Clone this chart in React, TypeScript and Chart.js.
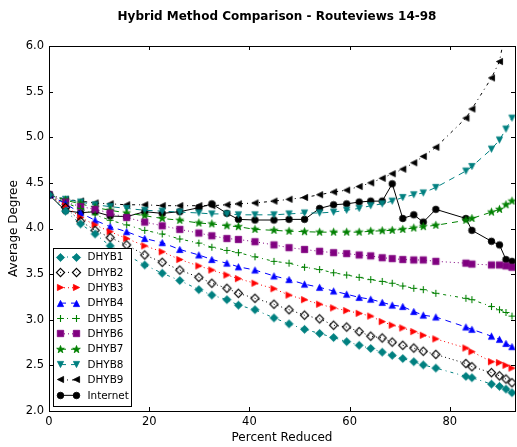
import React, { useEffect, useRef } from "react";
import { Chart, registerables } from "chart.js";

Chart.register(...registerables);

// ---- data ----
const percentReduced = [0, 3.3, 6.3, 9.2, 12.2, 15.5, 19.1, 22.6, 26.1, 29.9, 32.5, 35.5, 37.8, 41.1, 44.9, 47.9, 51.0, 54.0, 56.8, 59.4, 61.9, 64.2, 66.5, 68.5, 70.6, 72.8, 74.7, 77.2, 83.2, 84.4, 88.3, 89.9, 91.2, 92.4];

const dhyb1 = [4.37, 4.19, 4.05, 3.94, 3.81, 3.71, 3.60, 3.51, 3.43, 3.33, 3.27, 3.22, 3.16, 3.11, 3.02, 2.955, 2.895, 2.85, 2.805, 2.76, 2.72, 2.685, 2.645, 2.61, 2.575, 2.54, 2.505, 2.47, 2.38, 2.365, 2.295, 2.27, 2.24, 2.20];
const dhyb2 = [4.37, 4.23, 4.08, 3.98, 3.90, 3.82, 3.71, 3.63, 3.545, 3.465, 3.40, 3.345, 3.29, 3.235, 3.17, 3.11, 3.05, 3.01, 2.94, 2.92, 2.87, 2.82, 2.80, 2.755, 2.72, 2.69, 2.655, 2.62, 2.52, 2.485, 2.42, 2.385, 2.35, 2.31];
const dhyb3 = [4.37, 4.25, 4.12, 4.04, 3.965, 3.89, 3.81, 3.745, 3.66, 3.59, 3.545, 3.49, 3.45, 3.40, 3.34, 3.27, 3.22, 3.17, 3.13, 3.10, 3.07, 3.04, 2.98, 2.94, 2.91, 2.87, 2.83, 2.79, 2.69, 2.65, 2.54, 2.53, 2.50, 2.47];
const dhyb4 = [4.37, 4.27, 4.17, 4.09, 4.02, 3.965, 3.89, 3.845, 3.77, 3.71, 3.66, 3.62, 3.58, 3.545, 3.48, 3.44, 3.39, 3.355, 3.315, 3.28, 3.245, 3.225, 3.19, 3.16, 3.145, 3.09, 3.05, 3.03, 2.92, 2.895, 2.82, 2.785, 2.74, 2.705];
const dhyb5 = [4.37, 4.28, 4.22, 4.15, 4.09, 4.04, 3.98, 3.94, 3.885, 3.84, 3.795, 3.76, 3.735, 3.69, 3.64, 3.62, 3.575, 3.55, 3.515, 3.49, 3.465, 3.44, 3.42, 3.40, 3.37, 3.345, 3.33, 3.29, 3.235, 3.22, 3.145, 3.11, 3.08, 3.04];
const dhyb6 = [4.37, 4.29, 4.24, 4.21, 4.17, 4.12, 4.07, 4.03, 3.99, 3.95, 3.92, 3.89, 3.88, 3.855, 3.82, 3.79, 3.77, 3.75, 3.735, 3.725, 3.71, 3.70, 3.68, 3.67, 3.66, 3.655, 3.655, 3.64, 3.62, 3.61, 3.60, 3.60, 3.59, 3.575];
const dhyb7 = [4.37, 4.31, 4.27, 4.23, 4.20, 4.17, 4.14, 4.11, 4.09, 4.06, 4.05, 4.03, 4.02, 3.99, 3.98, 3.97, 3.965, 3.96, 3.96, 3.96, 3.96, 3.97, 3.975, 3.98, 3.99, 4.005, 4.02, 4.035, 4.09, 4.11, 4.18, 4.21, 4.26, 4.30];
const dhyb8 = [4.37, 4.32, 4.29, 4.26, 4.24, 4.22, 4.20, 4.19, 4.18, 4.17, 4.16, 4.16, 4.15, 4.15, 4.15, 4.16, 4.17, 4.17, 4.18, 4.20, 4.22, 4.25, 4.27, 4.30, 4.34, 4.37, 4.39, 4.45, 4.63, 4.68, 4.87, 4.97, 5.09, 5.21];
const dhyb9 = [4.37, 4.32, 4.30, 4.28, 4.27, 4.26, 4.26, 4.25, 4.25, 4.25, 4.25, 4.26, 4.27, 4.28, 4.30, 4.32, 4.34, 4.37, 4.40, 4.42, 4.46, 4.50, 4.55, 4.60, 4.65, 4.72, 4.79, 4.89, 5.21, 5.31, 5.65, 5.83, 6.2, 6.5];
const internet = [4.37, 4.195, 4.173, 4.184, 4.137, 4.13, 4.184, 4.166, 4.184, 4.228, 4.27, 4.166, 4.10, 4.093, 4.093, 4.10, 4.10, 4.22, 4.26, 4.27, 4.29, 4.30, 4.30, 4.49, 4.11, 4.15, 4.07, 4.21, 4.11, 3.98, 3.86, 3.82, 3.66, 3.64];

const seriesNames = ["DHYB1", "DHYB2", "DHYB3", "DHYB4", "DHYB5", "DHYB6", "DHYB7", "DHYB8", "DHYB9", "Internet"];
const seriesValues = [dhyb1, dhyb2, dhyb3, dhyb4, dhyb5, dhyb6, dhyb7, dhyb8, dhyb9, internet];

const xTicks = [0, 20, 40, 60, 80];
const xMin = 0;
const xMax = 93;
const yMin = 2;
const yMax = 6;
const yStep = 0.5;

const titleText = "Hybrid Method Comparison - Routeviews 14-98";
const xTitle = "Percent Reduced";
const yTitle = "Average Degree";

// ---- styles ----
const DASHED = [6, 5];
const DASHDOT = [3, 4, 1, 4];
const DOTTED = [1, 3];
const styles = [
  { color: "#008080", marker: "diamond", fill: true, dash: DASHDOT },
  { color: "#000000", marker: "diamond", fill: false, dash: DOTTED },
  { color: "#ff0000", marker: "triRight", fill: true, dash: DOTTED },
  { color: "#0000ff", marker: "triUp", fill: true, dash: DASHED },
  { color: "#008000", marker: "plus", fill: true, dash: DASHDOT },
  { color: "#800080", marker: "square", fill: true, dash: DOTTED },
  { color: "#008000", marker: "star", fill: true, dash: DASHED },
  { color: "#008080", marker: "triDown", fill: true, dash: DASHED },
  { color: "#000000", marker: "triLeft", fill: true, dash: DASHDOT },
  { color: "#000000", marker: "circle", fill: true, dash: [] as number[] },
];

const FONT = "'DejaVu Sans', 'Liberation Sans', sans-serif";

function makeMarker(shape: string, color: string, filled: boolean): HTMLCanvasElement {
  const S = 13;
  const c = document.createElement("canvas");
  c.width = S;
  c.height = S;
  const ctx = c.getContext("2d")!;
  const m = S / 2;
  ctx.fillStyle = color;
  ctx.strokeStyle = color;
  ctx.lineWidth = 0.8;
  ctx.beginPath();
  const t = 3.1;
  switch (shape) {
    case "diamond": {
      const r = 4.1;
      ctx.moveTo(m, m - r);
      ctx.lineTo(m + r, m);
      ctx.lineTo(m, m + r);
      ctx.lineTo(m - r, m);
      ctx.closePath();
      break;
    }
    case "triUp":
      ctx.moveTo(m, m - t);
      ctx.lineTo(m + t, m + t);
      ctx.lineTo(m - t, m + t);
      ctx.closePath();
      break;
    case "triDown":
      ctx.moveTo(m, m + t);
      ctx.lineTo(m + t, m - t);
      ctx.lineTo(m - t, m - t);
      ctx.closePath();
      break;
    case "triRight":
      ctx.moveTo(m + t, m);
      ctx.lineTo(m - t, m - t);
      ctx.lineTo(m - t, m + t);
      ctx.closePath();
      break;
    case "triLeft":
      ctx.moveTo(m - t, m);
      ctx.lineTo(m + t, m - t);
      ctx.lineTo(m + t, m + t);
      ctx.closePath();
      break;
    case "square":
      ctx.rect(m - 3.2, m - 3.2, 6.4, 6.4);
      break;
    case "circle":
      ctx.arc(m, m, 3.3, 0, Math.PI * 2);
      break;
    case "star": {
      const ro = 4.0;
      const ri = 1.6;
      for (let k = 0; k < 10; k++) {
        const r = k % 2 === 0 ? ro : ri;
        const a = -Math.PI / 2 + (k * Math.PI) / 5;
        const px = m + r * Math.cos(a);
        const py = m + r * Math.sin(a);
        if (k === 0) ctx.moveTo(px, py);
        else ctx.lineTo(px, py);
      }
      ctx.closePath();
      break;
    }
    case "plus":
      ctx.lineWidth = 1.1;
      ctx.moveTo(m - 3.4, m);
      ctx.lineTo(m + 3.4, m);
      ctx.moveTo(m, m - 3.4);
      ctx.lineTo(m, m + 3.4);
      ctx.stroke();
      return c;
  }
  if (filled) {
    ctx.fill();
    ctx.stroke();
  } else {
    ctx.lineWidth = 1.1;
    ctx.stroke();
  }
  return c;
}

const framePlugin = {
  id: "frameTicks",
  afterDatasetsDraw(chart: any) {
    const { ctx, chartArea } = chart;
    const { left, right, top, bottom } = chartArea;
    const xs = chart.scales.x;
    const ys = chart.scales.y;
    ctx.save();
    ctx.strokeStyle = "#000";
    ctx.lineWidth = 1;
    ctx.setLineDash([]);
    ctx.strokeRect(Math.round(left) + 0.5, Math.round(top) + 0.5, Math.round(right - left), Math.round(bottom - top));
    ctx.beginPath();
    const L = 4;
    xs.ticks.forEach((tk: any) => {
      const px = Math.round(xs.getPixelForValue(tk.value)) + 0.5;
      ctx.moveTo(px, bottom);
      ctx.lineTo(px, bottom - L);
      ctx.moveTo(px, top);
      ctx.lineTo(px, top + L);
    });
    ys.ticks.forEach((tk: any) => {
      const py = Math.round(ys.getPixelForValue(tk.value)) + 0.5;
      ctx.moveTo(left, py);
      ctx.lineTo(left + L, py);
      ctx.moveTo(right, py);
      ctx.lineTo(right - L, py);
    });
    ctx.stroke();
    ctx.restore();
  },
};

const makeLegendPlugin = (markers: HTMLCanvasElement[]) => ({
  id: "boxLegend",
  afterDraw(chart: any) {
    const { ctx, chartArea } = chart;
    const x0 = Math.round(chartArea.left) + 4.5;
    const y0 = Math.round(chartArea.bottom) - 162.5;
    const w = 78;
    const h = 158;
    ctx.save();
    ctx.fillStyle = "#fff";
    ctx.fillRect(x0, y0, w, h);
    ctx.strokeStyle = "#000";
    ctx.lineWidth = 1;
    ctx.setLineDash([]);
    ctx.strokeRect(x0, y0, w, h);
    ctx.font = `10.4px ${FONT}`;
    ctx.textBaseline = "middle";
    ctx.textAlign = "left";
    chart.data.datasets.forEach((ds: any, i: number) => {
      const y = y0 + 8.5 + i * 15.37;
      const xa = x0 + 6.5;
      const xb = x0 + 23;
      ctx.strokeStyle = ds.borderColor;
      ctx.lineWidth = 1;
      ctx.setLineDash(ds.borderDash || []);
      ctx.beginPath();
      ctx.moveTo(xa, y);
      ctx.lineTo(xb, y);
      ctx.stroke();
      ctx.setLineDash([]);
      const mk = markers[i];
      ctx.drawImage(mk, Math.round(xa - mk.width / 2), Math.round(y - mk.height / 2));
      ctx.drawImage(mk, Math.round(xb - mk.width / 2), Math.round(y - mk.height / 2));
      ctx.fillStyle = "#000";
      ctx.fillText(ds.label, x0 + 34, y + 0.5);
    });
    ctx.restore();
  },
});

const titlePlugin = {
  id: "figTitle",
  afterDraw(chart: any) {
    const { ctx } = chart;
    ctx.save();
    ctx.font = `bold 12px ${FONT}`;
    ctx.fillStyle = "#000";
    ctx.textAlign = "center";
    ctx.textBaseline = "middle";
    ctx.fillText(titleText, 277, 16.5);
    ctx.restore();
  },
};

export default function App() {
  const ref = useRef<HTMLCanvasElement>(null);
  useEffect(() => {
    document.body.style.margin = "0";
    document.body.style.overflow = "hidden";
    const markers = styles.map((s) => makeMarker(s.marker, s.color, s.fill));
    const datasets = seriesNames.map((name, i) => ({
      label: name,
      data: percentReduced.map((x, j) => ({ x, y: seriesValues[i][j] })),
      borderColor: styles[i].color,
      backgroundColor: styles[i].color,
      borderWidth: 1,
      borderDash: styles[i].dash,
      pointStyle: markers[i],
      pointRadius: 4,
      pointHoverRadius: 4,
      fill: false,
      tension: 0,
    }));
    const chart = new Chart(ref.current!, {
      type: "line",
      data: { datasets },
      plugins: [framePlugin, makeLegendPlugin(markers), titlePlugin],
      options: {
        animation: false,
        responsive: false,
        devicePixelRatio: 1,
        layout: { padding: { top: 46, right: 1, bottom: 0, left: 0 } },
        plugins: {
          legend: { display: false },
          title: { display: false },
          tooltip: { enabled: false },
        },
        scales: {
          x: {
            type: "linear",
            min: xMin,
            max: xMax,
            afterBuildTicks: (scale: any) => {
              scale.ticks = xTicks.map((v) => ({ value: v }));
            },
            ticks: {
              includeBounds: false,
              color: "#000",
              font: { family: FONT, size: 11.5 },
              padding: 4,
              maxRotation: 0,
              autoSkip: false,
            },
            grid: { display: false, drawTicks: false },
            border: { display: false },
            title: {
              display: true,
              text: xTitle,
              color: "#000",
              font: { family: FONT, size: 12 },
              padding: { top: 0, bottom: 2 },
            },
            afterFit: (scale: any) => {
              scale.height = 36;
            },
          },
          y: {
            type: "linear",
            min: yMin,
            max: yMax,
            ticks: {
              stepSize: yStep,
              color: "#000",
              font: { family: FONT, size: 11.5 },
              padding: 5,
              callback: (v: any) => Number(v).toFixed(1),
            },
            grid: { display: false, drawTicks: false },
            border: { display: false },
            title: {
              display: true,
              text: yTitle,
              color: "#000",
              font: { family: FONT, size: 12 },
              padding: { top: 7, bottom: 0 },
            },
            afterFit: (scale: any) => {
              scale.width = 49;
            },
          },
        },
      } as any,
    });
    return () => chart.destroy();
  }, []);
  return (
    <div style={{ position: "fixed", left: 0, top: 0, width: 520, height: 447, background: "#fff" }}>
      <canvas ref={ref} width={520} height={447} style={{ width: 520, height: 447, display: "block" }} />
    </div>
  );
}
